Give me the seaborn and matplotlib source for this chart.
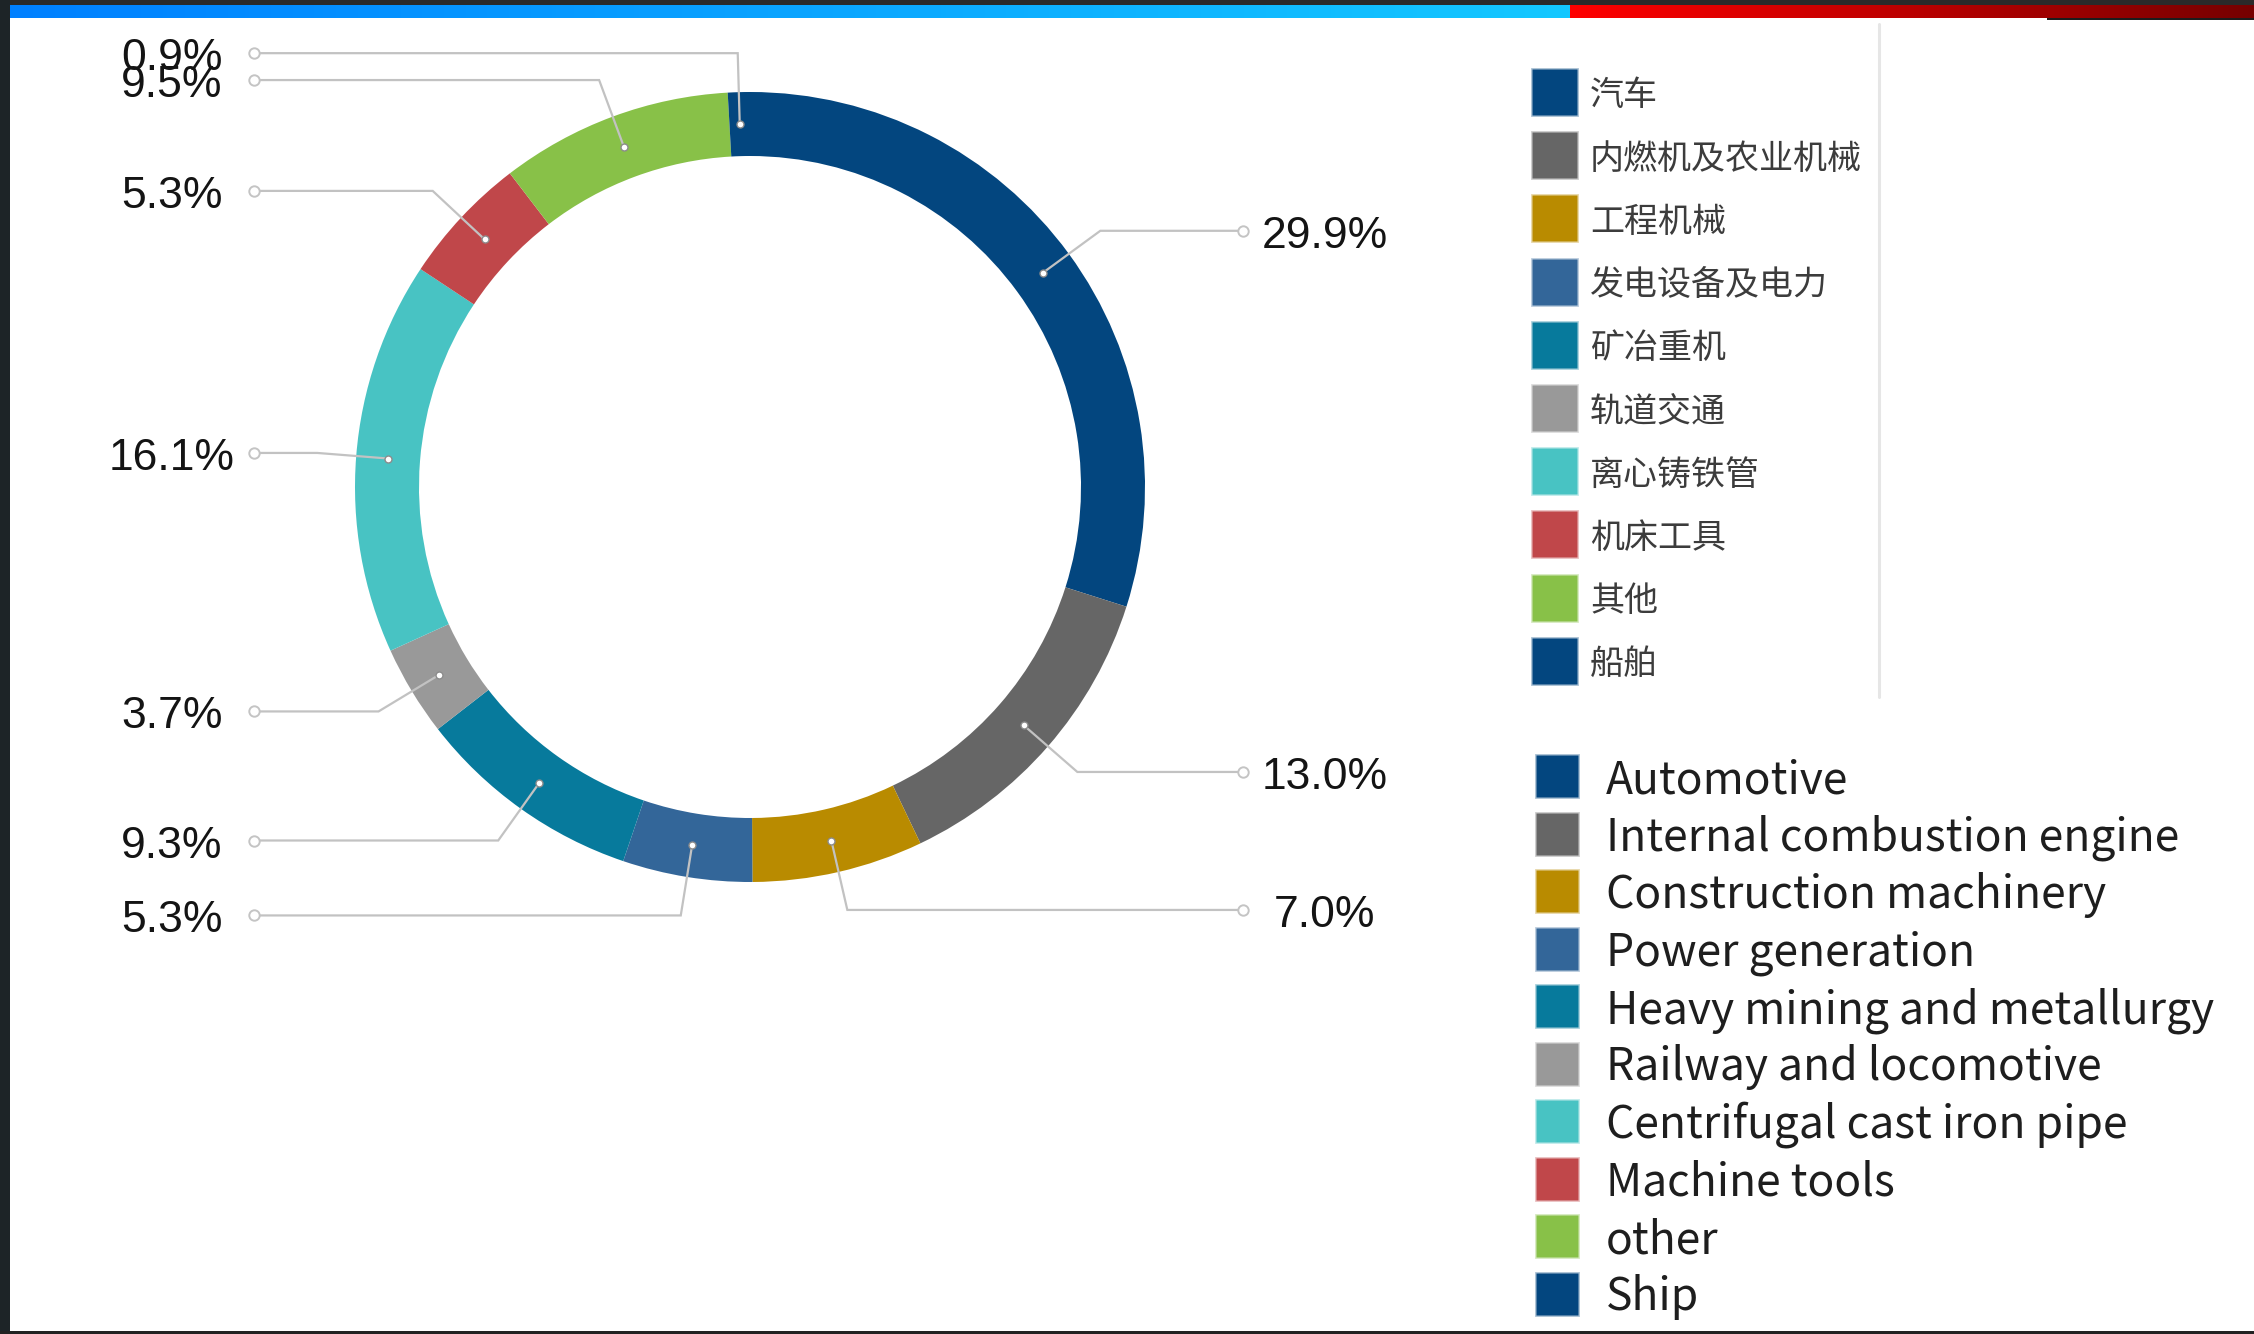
import numpy as np
import matplotlib
matplotlib.use("Agg")
import matplotlib.pyplot as plt
import seaborn as sns
from matplotlib.patches import Rectangle
from matplotlib.colors import to_rgb

# Share of castings demand by downstream sector (%)
categories_zh = ["汽车", "内燃机及农业机械", "工程机械", "发电设备及电力", "矿冶重机",
                 "轨道交通", "离心铸铁管", "机床工具", "其他", "船舶"]
categories_en = ["Automotive", "Internal combustion engine", "Construction machinery",
                 "Power generation", "Heavy mining and metallurgy", "Railway and locomotive",
                 "Centrifugal cast iron pipe", "Machine tools", "other", "Ship"]
shares = [29.9, 13.0, 7.0, 5.3, 9.3, 3.7, 16.1, 5.3, 9.5, 0.9]
segment_colors = ["#03467f", "#666666", "#b98b00", "#336699", "#077a9c",
                  "#999999", "#48c3c3", "#c0474a", "#88c148", "#03467f"]

W, H = 2254, 1334
sns.set_theme(style="white")
plt.rcParams["font.family"] = ["Liberation Sans", "Noto Sans CJK SC", "DejaVu Sans"]

fig = plt.figure(figsize=(W / 100, H / 100), dpi=100)
fig.patch.set_facecolor("white")
ax = fig.add_axes([0, 0, 1, 1])

# ---- donut ----
cx, cy = 750, H - 487
r_out, r_in = 395, 331
wedges, _ = ax.pie(shares, colors=segment_colors, startangle=90, counterclock=False,
                   radius=r_out, center=(cx, cy),
                   wedgeprops=dict(width=r_out - r_in, edgecolor="none", linewidth=0))

r_mid = (r_out + r_in) / 2
r_elbow = 434
for w, val in zip(wedges, shares):
    ang = np.deg2rad((w.theta1 + w.theta2) / 2)
    ux, uy = np.cos(ang), np.sin(ang)
    px, py = cx + r_mid * ux, cy + r_mid * uy
    bx, by = cx + r_elbow * ux, cy + r_elbow * uy
    right = ux > 0
    ex = 1243 if right else 254
    tx = 1325 if right else 172
    ax.plot([px, bx, ex], [py, by, by], color="#c2c2c2", lw=1.6, zorder=3,
            solid_joinstyle="miter", solid_capstyle="butt")
    ax.plot(px, py, "o", ms=5, mfc="white", mec="#8c8c8c", mew=1.0, zorder=4)
    ax.plot(ex, by, "o", ms=7.5, mfc="white", mec="#c4c4c4", mew=1.4, zorder=4)
    ax.text(tx, by - 17, f"{val:.1f}%", ha="center", va="baseline", fontsize=32,
            color="#141414", family=["Liberation Sans", "DejaVu Sans"], zorder=5)

# ---- Chinese legend ----
for i, (lab, col) in enumerate(zip(categories_zh, segment_colors)):
    yc = H - (92 + 63.2 * i)
    halo = to_rgb(col) + (0.35,)
    ax.add_patch(Rectangle((1532, yc - 23), 45, 46, facecolor=col,
                           edgecolor=halo, lw=2.0, zorder=3))
    ax.text(1590, yc - 4, lab, ha="left", va="center", fontsize=24.5, color="#3c3c3c",
            family=["Noto Sans CJK SC", "DejaVu Sans"], zorder=3)

# separator next to the Chinese legend
ax.plot([1879, 1879], [H - 24, H - 697], color="#e6e6e6", lw=2.2, zorder=2)

# ---- English legend ----
for i, (lab, col) in enumerate(zip(categories_en, segment_colors)):
    yc = H - (776 + 57.5 * i)
    halo = to_rgb(col) + (0.35,)
    ax.add_patch(Rectangle((1536, yc - 21), 42, 42, facecolor=col,
                           edgecolor=halo, lw=2.0, zorder=3))
    ax.text(1606, yc - 17, lab, ha="left", va="baseline", fontsize=32,
            color="#1e1e1e", family=["Noto Sans CJK SC", "DejaVu Sans"], zorder=3)

# ---- frame decorations: top gradient band and dark edges ----
n = 512
t = np.linspace(0, 1, n)[None, :, None]
blue = (1 - t) * np.array(to_rgb("#0080ff")) + t * np.array(to_rgb("#14c8ff"))
red = (1 - t) * np.array(to_rgb("#ff0000")) + t * np.array(to_rgb("#760000"))
ax.imshow(blue, extent=[10, 1570, H - 18, H - 5], aspect="auto", zorder=6,
          interpolation="bilinear")
ax.imshow(red, extent=[1570, W, H - 18, H - 5], aspect="auto", zorder=6,
          interpolation="bilinear")
ax.add_patch(Rectangle((0, H - 5), W, 5, facecolor="#2a2a2a", edgecolor="none", zorder=7))
ax.add_patch(Rectangle((2047, H - 20), W - 2047, 2, facecolor="#1c1c1c",
                       edgecolor="none", zorder=7))
ax.add_patch(Rectangle((0, 0), 10, H, facecolor="#1d2427", edgecolor="none", zorder=7))
ax.add_patch(Rectangle((0, 0), W, 3, facecolor="#222222", edgecolor="none", zorder=7))

ax.set_xlim(0, W)
ax.set_ylim(0, H)
ax.set_aspect("auto")
ax.axis("off")

fig.savefig("out.png", dpi=100, facecolor="white")
